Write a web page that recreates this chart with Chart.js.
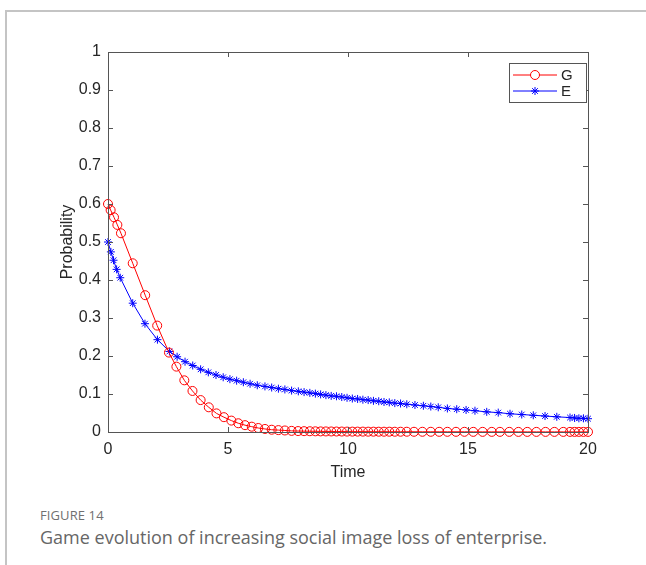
<!DOCTYPE html>
<html>
<head>
<meta charset="utf-8">
<script src="https://cdn.jsdelivr.net/npm/chart.js@4/dist/chart.umd.min.js"></script>
<style>
  html, body { margin: 0; padding: 0; background: #fff; }
  body { width: 646px; height: 565px; position: relative; overflow: hidden; }
  .frame {
    position: absolute; left: 5px; top: 10px; width: 660px; height: 600px;
    border-top: 2px solid #c4c4c4; border-left: 2px solid #c4c4c4;
  }
  .plot { position: absolute; left: 0; top: 0; width: 646px; height: 490px; }
  .caption { position: absolute; left: 40px; top: 505px; font-family: "Open Sans", "Noto Sans", sans-serif; color: #666; }
  .caption .label { font-size: 13px; letter-spacing: 0.1px; line-height: 20px; color: #707070; }
  .caption .text { font-size: 18px; line-height: 24px; color: #666; }
</style>
</head>
<body>
<div class="frame"></div>
<div class="plot"><canvas id="chart" width="646" height="490"></canvas></div>
<div class="caption">
  <div class="label">FIGURE 14</div>
  <div class="text">Game evolution of increasing social image loss of enterprise.</div>
</div>
<script>
// G (government) trajectory
const gTime = [0, 0.11, 0.25, 0.39, 0.54, 1.03, 1.55, 2.05, 2.54, 2.85, 3.18, 3.52, 3.86, 4.2, 4.52,
  4.83, 5.14, 5.43, 5.71, 5.99, 6.26, 6.54, 6.82, 7.1, 7.37, 7.65, 7.92, 8.17, 8.41, 8.64, 8.86,
  9.08, 9.3, 9.52, 9.74, 9.96, 10.18, 10.4, 10.62, 10.84, 11.06, 11.28, 11.5, 11.72, 11.95, 12.19,
  12.45, 12.75, 13.1, 13.45, 13.8, 14.14, 14.5, 14.85, 15.22, 15.61, 15.99, 16.33, 16.72, 17.1,
  17.47, 17.85, 18.23, 18.6, 18.97, 19.25, 19.44, 19.62, 19.81, 20];
const gValue = [0.6, 0.584, 0.565, 0.545, 0.523, 0.444, 0.36, 0.28, 0.209, 0.172, 0.136, 0.108, 0.084,
  0.065, 0.049, 0.039, 0.03, 0.023, 0.018, 0.014, 0.0105, 0.008, 0.006, 0.005, 0.004, 0.003, 0.0025,
  0.0022, 0.002, 0.0018, 0.0016, 0.0015, 0.0014, 0.0013, 0.0012, 0.0011, 0.001, 0.001, 0.001, 0.0009,
  0.0009, 0.0008, 0.0008, 0.0008, 0.0007, 0.0007, 0.0007, 0.0006, 0.0006, 0.0006, 0.0005, 0.0005,
  0.0005, 0.0005, 0.0004, 0.0004, 0.0004, 0.0004, 0.0004, 0.0003, 0.0003, 0.0003, 0.0003, 0.0003,
  0.0003, 0.0003, 0.0003, 0.0003, 0.0003, 0.0003];

// E (enterprise) trajectory
const eTime = [0, 0.12, 0.23, 0.36, 0.51, 1.03, 1.54, 2.06, 2.56, 2.88, 3.21, 3.53, 3.86, 4.18, 4.5,
  4.8, 5.08, 5.36, 5.64, 5.92, 6.22, 6.54, 6.82, 7.1, 7.37, 7.65, 7.93, 8.17, 8.41, 8.64, 8.86, 9.08,
  9.3, 9.52, 9.74, 9.96, 10.18, 10.4, 10.62, 10.84, 11.06, 11.28, 11.5, 11.72, 11.95, 12.19, 12.45,
  12.79, 13.14, 13.45, 13.76, 14.14, 14.53, 14.92, 15.29, 15.78, 16.26, 16.75, 17.24, 17.72, 18.21,
  18.7, 19.25, 19.44, 19.62, 19.81, 20];
const eValue = [0.5, 0.474, 0.452, 0.428, 0.406, 0.339, 0.285, 0.243, 0.212, 0.198, 0.185, 0.175,
  0.165, 0.157, 0.15, 0.144, 0.139, 0.135, 0.131, 0.127, 0.123, 0.12, 0.117, 0.114, 0.112, 0.109,
  0.107, 0.105, 0.103, 0.101, 0.099, 0.097, 0.095, 0.094, 0.092, 0.09, 0.088, 0.087, 0.085, 0.084,
  0.082, 0.081, 0.079, 0.078, 0.076, 0.075, 0.073, 0.071, 0.069, 0.067, 0.065, 0.062, 0.06, 0.058,
  0.056, 0.053, 0.051, 0.048, 0.046, 0.044, 0.042, 0.04, 0.038, 0.037, 0.036, 0.036, 0.035];

const seriesNames = ["G", "E"];
const xTicks = [0, 5, 10, 15, 20];
const yTicks = [0, 0.1, 0.2, 0.3, 0.4, 0.5, 0.6, 0.7, 0.8, 0.9, 1];

const axisColor = "#555";
const textColor = "#262626";
const red = "#ff0000";
const blue = "#0000ff";
const font = "'Liberation Sans', Arial, sans-serif";

const toPoints = (t, v) => t.map((x, i) => ({ x: x, y: v[i] }));
const plainLabel = v => String(Number(v.toFixed(2)));

// MATLAB-like box with inward ticks on all four sides
const boxAxes = {
  id: "boxAxes",
  afterDraw(chart) {
    const { ctx, chartArea: a, scales: { x, y } } = chart;
    const len = 5;
    ctx.save();
    ctx.strokeStyle = axisColor;
    ctx.lineWidth = 1;
    ctx.beginPath();
    xTicks.forEach(v => {
      const px = Math.round(x.getPixelForValue(v)) + 0.5;
      ctx.moveTo(px, a.bottom); ctx.lineTo(px, a.bottom - len);
      ctx.moveTo(px, a.top); ctx.lineTo(px, a.top + len);
    });
    yTicks.forEach(v => {
      const py = Math.round(y.getPixelForValue(v)) + 0.5;
      ctx.moveTo(a.left, py); ctx.lineTo(a.left + len, py);
      ctx.moveTo(a.right, py); ctx.lineTo(a.right - len, py);
    });
    ctx.stroke();
    ctx.strokeRect(Math.round(a.left) + 0.5, Math.round(a.top) + 0.5,
      Math.round(a.right - a.left), Math.round(a.bottom - a.top));
    ctx.restore();
  }
};

// legend box in the top right corner, line + marker samples
const boxLegend = {
  id: "boxLegend",
  afterDraw(chart) {
    const { ctx, chartArea: a } = chart;
    const bx = a.right - 79, by = a.top + 11, bw = 77, bh = 39;
    ctx.save();
    ctx.fillStyle = "#fff";
    ctx.fillRect(bx, by, bw, bh);
    ctx.strokeStyle = axisColor;
    ctx.lineWidth = 1;
    ctx.strokeRect(bx + 0.5, by + 0.5, bw, bh);
    chart.data.datasets.forEach((ds, i) => {
      const ry = by + 12 + i * 16;
      ctx.strokeStyle = ds.borderColor;
      ctx.beginPath();
      ctx.moveTo(bx + 4, ry); ctx.lineTo(bx + 48, ry);
      ctx.stroke();
      Chart.helpers.drawPoint(ctx, {
        pointStyle: ds.pointStyle, radius: ds.pointRadius, borderWidth: 1, rotation: 0
      }, bx + 26, ry);
      ctx.fillStyle = textColor;
      ctx.font = "15px " + font;
      ctx.textBaseline = "middle";
      ctx.fillText(ds.label, bx + 52, ry + 1);
    });
    ctx.restore();
  }
};

new Chart(document.getElementById("chart"), {
  type: "line",
  data: {
    datasets: [
      {
        label: seriesNames[0],
        data: toPoints(gTime, gValue),
        borderColor: red,
        backgroundColor: "rgba(0,0,0,0)",
        borderWidth: 1,
        pointStyle: "circle",
        pointRadius: 4.5,
        pointBorderWidth: 1,
        pointBorderColor: red,
        pointBackgroundColor: "rgba(0,0,0,0)",
        tension: 0,
        clip: false
      },
      {
        label: seriesNames[1],
        data: toPoints(eTime, eValue),
        borderColor: blue,
        backgroundColor: "rgba(0,0,0,0)",
        borderWidth: 1,
        pointStyle: "star",
        pointRadius: 4,
        pointBorderWidth: 1,
        pointBorderColor: blue,
        pointBackgroundColor: blue,
        tension: 0,
        clip: false
      }
    ]
  },
  options: {
    responsive: false,
    animation: false,
    events: [],
    layout: { padding: { left: 0, right: 58, top: 52, bottom: 0 } },
    plugins: {
      legend: { display: false },
      tooltip: { enabled: false }
    },
    scales: {
      x: {
        type: "linear",
        min: 0,
        max: 20,
        afterFit: s => { s.height = 58; },
        afterBuildTicks: s => { s.ticks = xTicks.map(v => ({ value: v })); },
        grid: { display: false, drawTicks: false },
        border: { display: false },
        ticks: {
          padding: 8,
          color: textColor,
          font: { family: font, size: 16 },
          callback: plainLabel
        },
        title: {
          display: true,
          text: "Time",
          color: textColor,
          font: { family: font, size: 16 },
          padding: { top: 0, bottom: 8 }
        }
      },
      y: {
        type: "linear",
        min: 0,
        max: 1,
        afterFit: s => { s.width = 108; },
        afterBuildTicks: s => { s.ticks = yTicks.map(v => ({ value: v })); },
        grid: { display: false, drawTicks: false },
        border: { display: false },
        ticks: {
          padding: 7,
          color: textColor,
          font: { family: font, size: 16 },
          callback: plainLabel
        },
        title: {
          display: true,
          text: "Probability",
          color: textColor,
          font: { family: font, size: 16 },
          padding: { top: 58, bottom: 0 }
        }
      }
    }
  },
  plugins: [boxAxes, boxLegend]
});
</script>
</body>
</html>
